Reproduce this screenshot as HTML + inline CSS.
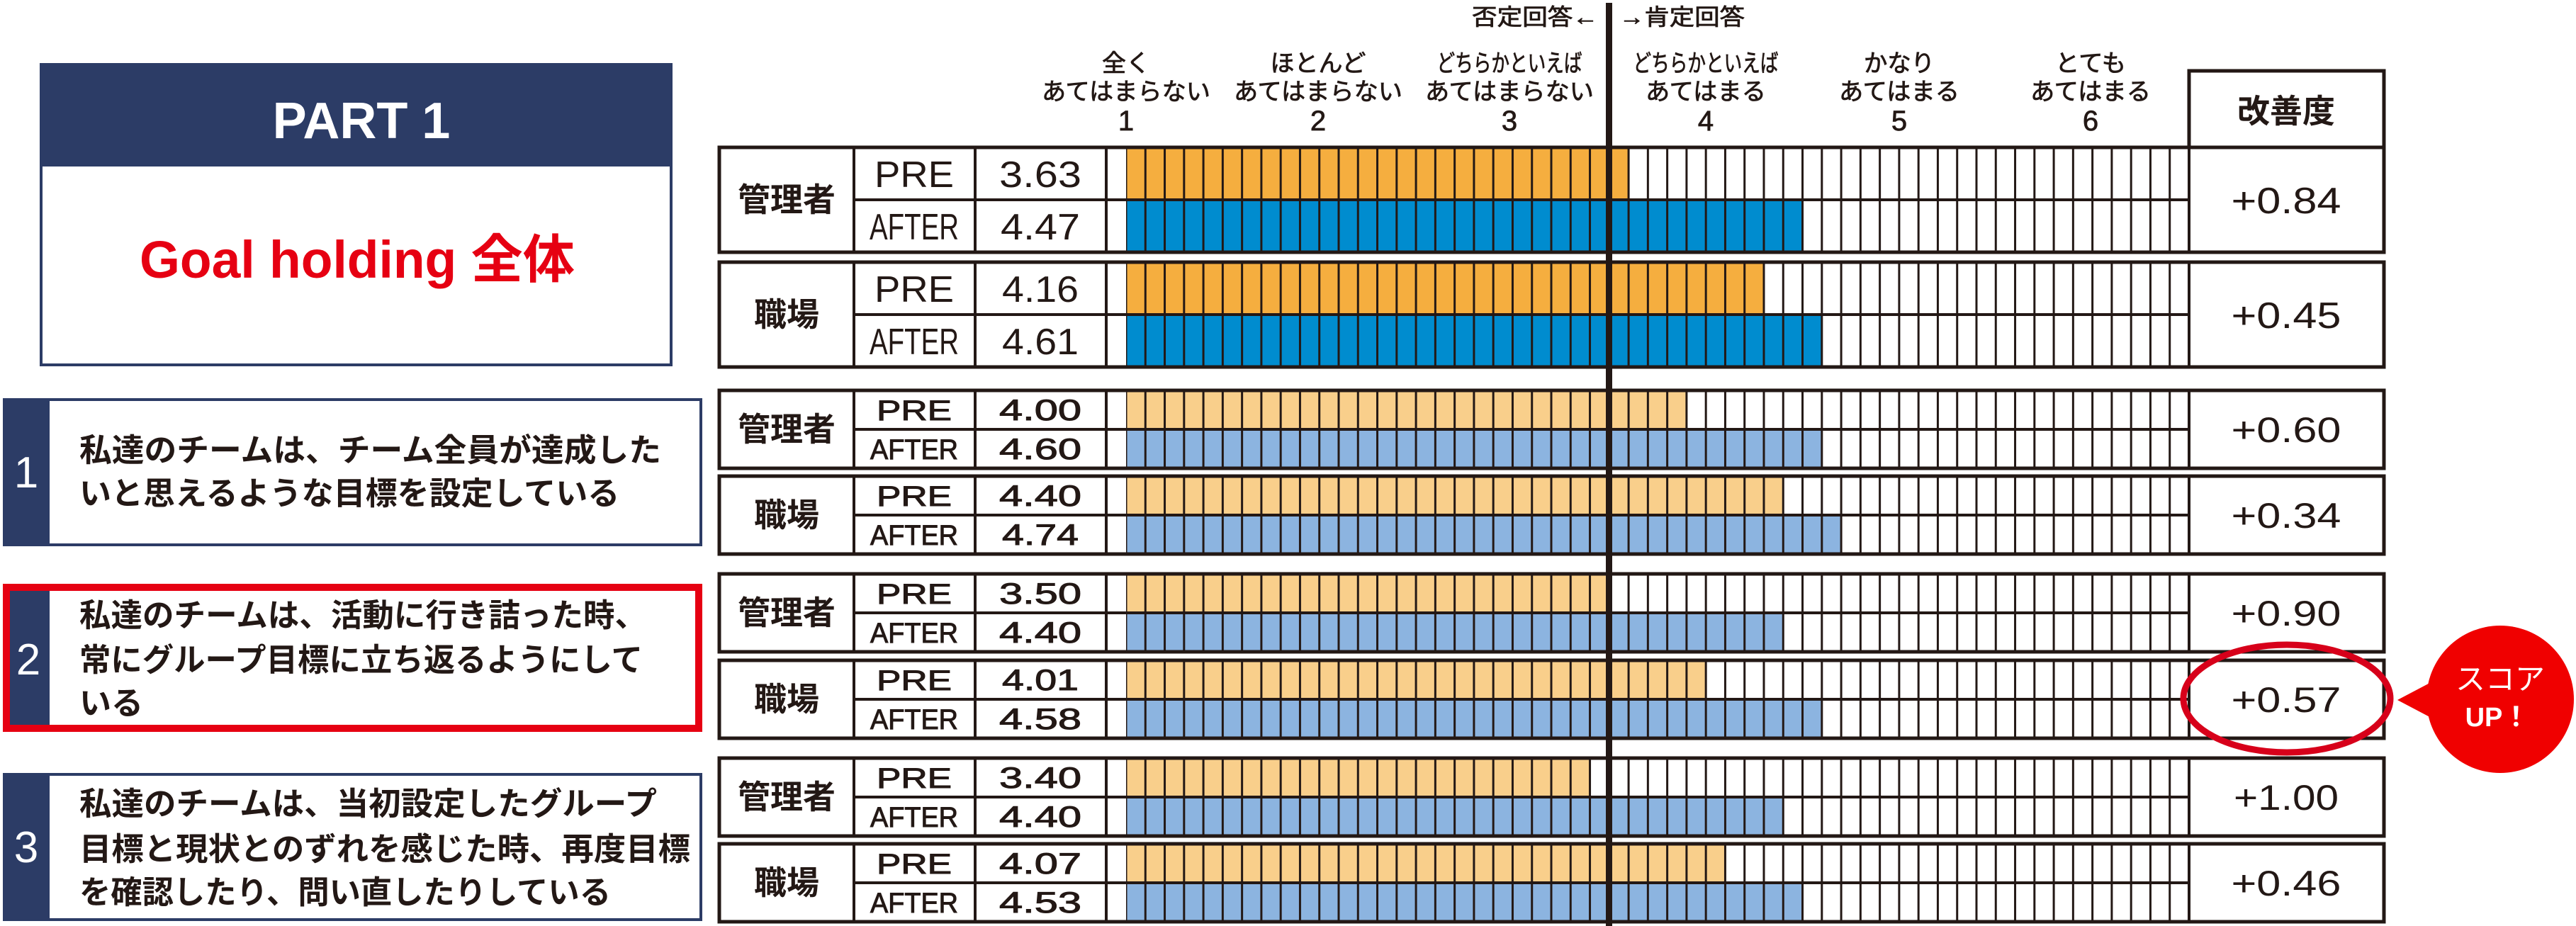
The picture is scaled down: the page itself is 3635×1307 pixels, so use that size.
<!DOCTYPE html>
<html><head><meta charset="utf-8"><style>html,body{margin:0;padding:0;background:#fff}svg{display:block}</style></head>
<body>
<svg width="3635" height="1307" viewBox="0 0 3635 1307" xmlns="http://www.w3.org/2000/svg" font-family="'Liberation Sans','Noto Sans CJK JP',sans-serif">
<defs>
<pattern id="g" x="1587.5" y="0" width="27.2727" height="20" patternUnits="userSpaceOnUse"><rect x="0" y="0" width="3" height="20" fill="#231815"/></pattern>
</defs>
<rect width="3635" height="1307" fill="#fff"/>

<!-- PART 1 box -->
<rect x="56" y="89" width="893" height="144" fill="#2c3c66"/>
<rect x="58" y="233" width="889" height="282" fill="#fff" stroke="#2c3c66" stroke-width="4"/>
<text x="510" y="195" font-size="72" font-weight="bold" fill="#fff" text-anchor="middle">PART 1</text>
<text x="197" y="392" font-size="74" font-weight="bold" fill="#e60012" textLength="614" lengthAdjust="spacingAndGlyphs" font-family="'Liberation Sans','Noto Sans CJK JP',sans-serif">Goal holding 全体</text>

<!-- Question boxes -->
<g font-family="'Liberation Sans','Noto Sans CJK JP',sans-serif" font-weight="bold" font-size="45" fill="#231815">
<rect x="4" y="562" width="987" height="209" fill="#2c3c66"/>
<rect x="70" y="566" width="917" height="201" fill="#fff"/>
<text x="37" y="688" font-size="62" font-weight="normal" fill="#fff" text-anchor="middle">1</text>
<text x="112" y="651" textLength="821" lengthAdjust="spacingAndGlyphs">私達のチームは、チーム全員が達成した</text>
<text x="112" y="712">いと思えるような目標を設定している</text>

<rect x="9" y="829" width="977" height="199" fill="#fff" stroke="#e60012" stroke-width="10"/>
<rect x="14" y="834" width="56" height="189" fill="#2c3c66"/>
<text x="40" y="952" font-size="62" font-weight="normal" fill="#fff" text-anchor="middle">2</text>
<text x="112" y="884" textLength="800" lengthAdjust="spacingAndGlyphs">私達のチームは、活動に行き詰った時、</text>
<text x="112" y="947" textLength="795" lengthAdjust="spacingAndGlyphs">常にグループ目標に立ち返るようにして</text>
<text x="112" y="1008">いる</text>

<rect x="4" y="1091" width="987" height="209" fill="#2c3c66"/>
<rect x="70" y="1095" width="917" height="201" fill="#fff"/>
<text x="37" y="1217" font-size="62" font-weight="normal" fill="#fff" text-anchor="middle">3</text>
<text x="112" y="1150" textLength="815" lengthAdjust="spacingAndGlyphs">私達のチームは、当初設定したグループ</text>
<text x="112" y="1214" textLength="862" lengthAdjust="spacingAndGlyphs">目標と現状とのずれを感じた時、再度目標</text>
<text x="112" y="1275" textLength="750" lengthAdjust="spacingAndGlyphs">を確認したり、問い直したりしている</text>
</g>

<!-- Header labels -->
<g fill="#231815" stroke="#231815" stroke-width="0.8" font-size="34" text-anchor="middle" font-family="'Liberation Sans','Noto Sans CJK JP',sans-serif">
<text x="2255" y="35" text-anchor="end" font-size="32" textLength="178" lengthAdjust="spacingAndGlyphs">否定回答←</text>
<text x="2285" y="35" text-anchor="start" font-size="32" textLength="177" lengthAdjust="spacingAndGlyphs">→肯定回答</text>
<text x="1589" y="101">全く</text>
<text x="1860" y="101" textLength="135" lengthAdjust="spacingAndGlyphs">ほとんど</text>
<text x="2130" y="101" textLength="205" lengthAdjust="spacingAndGlyphs">どちらかといえば</text>
<text x="2407" y="101" textLength="205" lengthAdjust="spacingAndGlyphs">どちらかといえば</text>
<text x="2680" y="101" textLength="100" lengthAdjust="spacingAndGlyphs">かなり</text>
<text x="2950" y="101" textLength="100" lengthAdjust="spacingAndGlyphs">とても</text>
<text x="1589" y="141" textLength="238" lengthAdjust="spacingAndGlyphs">あてはまらない</text>
<text x="1860" y="141" textLength="238" lengthAdjust="spacingAndGlyphs">あてはまらない</text>
<text x="2130" y="141" textLength="238" lengthAdjust="spacingAndGlyphs">あてはまらない</text>
<text x="2407" y="141" textLength="170" lengthAdjust="spacingAndGlyphs">あてはまる</text>
<text x="2680" y="141" textLength="170" lengthAdjust="spacingAndGlyphs">あてはまる</text>
<text x="2950" y="141" textLength="170" lengthAdjust="spacingAndGlyphs">あてはまる</text>
<g font-size="40"><text x="1589" y="184">1</text><text x="1860" y="184">2</text><text x="2130" y="184">3</text><text x="2407" y="184">4</text><text x="2680" y="184">5</text><text x="2950" y="184">6</text></g>
</g>
<rect x="3089" y="100" width="275" height="108" fill="#fff" stroke="#231815" stroke-width="5"/>
<text x="3226" y="173" font-size="46" font-weight="bold" fill="#231815" text-anchor="middle" font-family="'Liberation Sans','Noto Sans CJK JP',sans-serif">改善度</text>

<!-- Top groups (dark colors) -->
<g stroke="#231815">
<rect x="1015" y="208" width="2349" height="148" fill="#fff" stroke-width="5"/>
<rect x="1589" y="208" width="709" height="74" fill="#f5ae3f" stroke="none"/>
<rect x="1589" y="282" width="954.5" height="74" fill="#008ccf" stroke="none"/>
<rect x="1589" y="208" width="1500" height="148" fill="url(#g)" stroke="none"/>
<line x1="1205" y1="208" x2="1205" y2="356" stroke-width="4"/>
<line x1="1376" y1="208" x2="1376" y2="356" stroke-width="4"/>
<line x1="1561" y1="208" x2="1561" y2="356" stroke-width="4"/>
<line x1="3089" y1="208" x2="3089" y2="356" stroke-width="4"/>
<line x1="1205" y1="282" x2="3089" y2="282" stroke-width="4"/>
<rect x="1015" y="208" width="2349" height="148" fill="none" stroke-width="5"/>
<rect x="1015" y="370" width="2349" height="148" fill="#fff" stroke-width="5"/>
<rect x="1589" y="370" width="900" height="74" fill="#f5ae3f" stroke="none"/>
<rect x="1589" y="444" width="981.8" height="74" fill="#008ccf" stroke="none"/>
<rect x="1589" y="370" width="1500" height="148" fill="url(#g)" stroke="none"/>
<line x1="1205" y1="370" x2="1205" y2="518" stroke-width="4"/>
<line x1="1376" y1="370" x2="1376" y2="518" stroke-width="4"/>
<line x1="1561" y1="370" x2="1561" y2="518" stroke-width="4"/>
<line x1="3089" y1="370" x2="3089" y2="518" stroke-width="4"/>
<line x1="1205" y1="444" x2="3089" y2="444" stroke-width="4"/>
<rect x="1015" y="370" width="2349" height="148" fill="none" stroke-width="5"/>
</g>
<g fill="#231815" font-family="'Liberation Sans','Noto Sans CJK JP',sans-serif" text-anchor="middle">
<text x="1110" y="298" font-size="46" font-weight="bold">管理者</text>
<text x="1110" y="460" font-size="46" font-weight="bold">職場</text>
<g font-size="52">
<text x="1290" y="264" textLength="112" lengthAdjust="spacingAndGlyphs">PRE</text>
<text x="1290" y="338" textLength="126" lengthAdjust="spacingAndGlyphs">AFTER</text>
<text x="1290" y="426" textLength="112" lengthAdjust="spacingAndGlyphs">PRE</text>
<text x="1290" y="500" textLength="126" lengthAdjust="spacingAndGlyphs">AFTER</text>
<text x="1468" y="264" textLength="116" lengthAdjust="spacingAndGlyphs">3.63</text>
<text x="1468" y="338" textLength="112" lengthAdjust="spacingAndGlyphs">4.47</text>
<text x="1468" y="426" textLength="108" lengthAdjust="spacingAndGlyphs">4.16</text>
<text x="1468" y="500" textLength="108" lengthAdjust="spacingAndGlyphs">4.61</text>
<text x="3226" y="301" textLength="155" lengthAdjust="spacingAndGlyphs">+0.84</text>
<text x="3226" y="463" textLength="155" lengthAdjust="spacingAndGlyphs">+0.45</text>
</g>
</g>

<!-- Lower groups -->
<g stroke="#231815">
<rect x="1015" y="551" width="2349" height="110" fill="#fff" stroke-width="5"/>
<rect x="1589" y="551" width="790.9" height="55" fill="#f9cf8b" stroke="none"/>
<rect x="1589" y="606" width="981.8" height="55" fill="#8cb4e0" stroke="none"/>
<rect x="1589" y="551" width="1500" height="110" fill="url(#g)" stroke="none"/>
<line x1="1205" y1="551" x2="1205" y2="661" stroke-width="4"/><line x1="1376" y1="551" x2="1376" y2="661" stroke-width="4"/><line x1="1561" y1="551" x2="1561" y2="661" stroke-width="4"/><line x1="3089" y1="551" x2="3089" y2="661" stroke-width="4"/><line x1="1205" y1="606" x2="3089" y2="606" stroke-width="4"/>
<rect x="1015" y="551" width="2349" height="110" fill="none" stroke-width="5"/>
<rect x="1015" y="672" width="2349" height="110" fill="#fff" stroke-width="5"/>
<rect x="1589" y="672" width="927.3" height="55" fill="#f9cf8b" stroke="none"/>
<rect x="1589" y="727" width="1009.1" height="55" fill="#8cb4e0" stroke="none"/>
<rect x="1589" y="672" width="1500" height="110" fill="url(#g)" stroke="none"/>
<line x1="1205" y1="672" x2="1205" y2="782" stroke-width="4"/><line x1="1376" y1="672" x2="1376" y2="782" stroke-width="4"/><line x1="1561" y1="672" x2="1561" y2="782" stroke-width="4"/><line x1="3089" y1="672" x2="3089" y2="782" stroke-width="4"/><line x1="1205" y1="727" x2="3089" y2="727" stroke-width="4"/>
<rect x="1015" y="672" width="2349" height="110" fill="none" stroke-width="5"/>
<rect x="1015" y="810" width="2349" height="110" fill="#fff" stroke-width="5"/>
<rect x="1589" y="810" width="681.8" height="55" fill="#f9cf8b" stroke="none"/>
<rect x="1589" y="865" width="927.3" height="55" fill="#8cb4e0" stroke="none"/>
<rect x="1589" y="810" width="1500" height="110" fill="url(#g)" stroke="none"/>
<line x1="1205" y1="810" x2="1205" y2="920" stroke-width="4"/><line x1="1376" y1="810" x2="1376" y2="920" stroke-width="4"/><line x1="1561" y1="810" x2="1561" y2="920" stroke-width="4"/><line x1="3089" y1="810" x2="3089" y2="920" stroke-width="4"/><line x1="1205" y1="865" x2="3089" y2="865" stroke-width="4"/>
<rect x="1015" y="810" width="2349" height="110" fill="none" stroke-width="5"/>
<rect x="1015" y="932" width="2349" height="110" fill="#fff" stroke-width="5"/>
<rect x="1589" y="932" width="818.2" height="55" fill="#f9cf8b" stroke="none"/>
<rect x="1589" y="987" width="981.8" height="55" fill="#8cb4e0" stroke="none"/>
<rect x="1589" y="932" width="1500" height="110" fill="url(#g)" stroke="none"/>
<line x1="1205" y1="932" x2="1205" y2="1042" stroke-width="4"/><line x1="1376" y1="932" x2="1376" y2="1042" stroke-width="4"/><line x1="1561" y1="932" x2="1561" y2="1042" stroke-width="4"/><line x1="3089" y1="932" x2="3089" y2="1042" stroke-width="4"/><line x1="1205" y1="987" x2="3089" y2="987" stroke-width="4"/>
<rect x="1015" y="932" width="2349" height="110" fill="none" stroke-width="5"/>
<rect x="1015" y="1070" width="2349" height="110" fill="#fff" stroke-width="5"/>
<rect x="1589" y="1070" width="654.5" height="55" fill="#f9cf8b" stroke="none"/>
<rect x="1589" y="1125" width="927.3" height="55" fill="#8cb4e0" stroke="none"/>
<rect x="1589" y="1070" width="1500" height="110" fill="url(#g)" stroke="none"/>
<line x1="1205" y1="1070" x2="1205" y2="1180" stroke-width="4"/><line x1="1376" y1="1070" x2="1376" y2="1180" stroke-width="4"/><line x1="1561" y1="1070" x2="1561" y2="1180" stroke-width="4"/><line x1="3089" y1="1070" x2="3089" y2="1180" stroke-width="4"/><line x1="1205" y1="1125" x2="3089" y2="1125" stroke-width="4"/>
<rect x="1015" y="1070" width="2349" height="110" fill="none" stroke-width="5"/>
<rect x="1015" y="1191" width="2349" height="110" fill="#fff" stroke-width="5"/>
<rect x="1589" y="1191" width="845.5" height="55" fill="#f9cf8b" stroke="none"/>
<rect x="1589" y="1246" width="954.5" height="55" fill="#8cb4e0" stroke="none"/>
<rect x="1589" y="1191" width="1500" height="110" fill="url(#g)" stroke="none"/>
<line x1="1205" y1="1191" x2="1205" y2="1301" stroke-width="4"/><line x1="1376" y1="1191" x2="1376" y2="1301" stroke-width="4"/><line x1="1561" y1="1191" x2="1561" y2="1301" stroke-width="4"/><line x1="3089" y1="1191" x2="3089" y2="1301" stroke-width="4"/><line x1="1205" y1="1246" x2="3089" y2="1246" stroke-width="4"/>
<rect x="1015" y="1191" width="2349" height="110" fill="none" stroke-width="5"/>
</g>

<g fill="#231815" font-family="'Liberation Sans','Noto Sans CJK JP',sans-serif" text-anchor="middle">
<g font-size="46" font-weight="bold">
<text x="1110" y="622">管理者</text><text x="1110" y="743">職場</text>
<text x="1110" y="881">管理者</text><text x="1110" y="1003">職場</text>
<text x="1110" y="1141">管理者</text><text x="1110" y="1262">職場</text>
</g>
<g font-size="40" stroke="#231815" stroke-width="1">
<text x="1290" y="593" textLength="106" lengthAdjust="spacingAndGlyphs">PRE</text><text x="1290" y="648" textLength="124" lengthAdjust="spacingAndGlyphs">AFTER</text>
<text x="1290" y="714" textLength="106" lengthAdjust="spacingAndGlyphs">PRE</text><text x="1290" y="769" textLength="124" lengthAdjust="spacingAndGlyphs">AFTER</text>
<text x="1290" y="852" textLength="106" lengthAdjust="spacingAndGlyphs">PRE</text><text x="1290" y="907" textLength="124" lengthAdjust="spacingAndGlyphs">AFTER</text>
<text x="1290" y="974" textLength="106" lengthAdjust="spacingAndGlyphs">PRE</text><text x="1290" y="1029" textLength="124" lengthAdjust="spacingAndGlyphs">AFTER</text>
<text x="1290" y="1112" textLength="106" lengthAdjust="spacingAndGlyphs">PRE</text><text x="1290" y="1167" textLength="124" lengthAdjust="spacingAndGlyphs">AFTER</text>
<text x="1290" y="1233" textLength="106" lengthAdjust="spacingAndGlyphs">PRE</text><text x="1290" y="1288" textLength="124" lengthAdjust="spacingAndGlyphs">AFTER</text>
</g>
<g font-size="42" stroke="#231815" stroke-width="1">
<text x="1468" y="593" textLength="116" lengthAdjust="spacingAndGlyphs">4.00</text><text x="1468" y="648" textLength="116" lengthAdjust="spacingAndGlyphs">4.60</text>
<text x="1468" y="714" textLength="116" lengthAdjust="spacingAndGlyphs">4.40</text><text x="1468" y="769" textLength="108" lengthAdjust="spacingAndGlyphs">4.74</text>
<text x="1468" y="852" textLength="116" lengthAdjust="spacingAndGlyphs">3.50</text><text x="1468" y="907" textLength="116" lengthAdjust="spacingAndGlyphs">4.40</text>
<text x="1468" y="974" textLength="108" lengthAdjust="spacingAndGlyphs">4.01</text><text x="1468" y="1029" textLength="116" lengthAdjust="spacingAndGlyphs">4.58</text>
<text x="1468" y="1112" textLength="116" lengthAdjust="spacingAndGlyphs">3.40</text><text x="1468" y="1167" textLength="116" lengthAdjust="spacingAndGlyphs">4.40</text>
<text x="1468" y="1233" textLength="116" lengthAdjust="spacingAndGlyphs">4.07</text><text x="1468" y="1288" textLength="116" lengthAdjust="spacingAndGlyphs">4.53</text>
</g>
<g font-size="50">
<text x="3226" y="624" textLength="155" lengthAdjust="spacingAndGlyphs">+0.60</text>
<text x="3226" y="745" textLength="155" lengthAdjust="spacingAndGlyphs">+0.34</text>
<text x="3226" y="883" textLength="155" lengthAdjust="spacingAndGlyphs">+0.90</text>
<text x="3226" y="1005" textLength="155" lengthAdjust="spacingAndGlyphs">+0.57</text>
<text x="3226" y="1143" textLength="148" lengthAdjust="spacingAndGlyphs">+1.00</text>
<text x="3226" y="1264" textLength="155" lengthAdjust="spacingAndGlyphs">+0.46</text>
</g>
</g>

<rect x="2266" y="4" width="9" height="1303" fill="#231815"/>

<ellipse cx="3227" cy="986" rx="146" ry="76" fill="none" stroke="#d7001a" stroke-width="9"/>
<path d="M3383 988 L3440 958 L3440 1018 Z" fill="#f00000"/>
<circle cx="3528" cy="987" r="104" fill="#f00000"/>
<text x="3528" y="973" font-size="42" fill="#fff" text-anchor="middle" font-family="'Liberation Sans','Noto Sans CJK JP',sans-serif">スコア</text>
<text x="3524" y="1025" font-size="38" font-weight="bold" fill="#fff" text-anchor="middle" font-family="'Liberation Sans','Noto Sans CJK JP',sans-serif">UP！</text>
</svg>
</body></html>
